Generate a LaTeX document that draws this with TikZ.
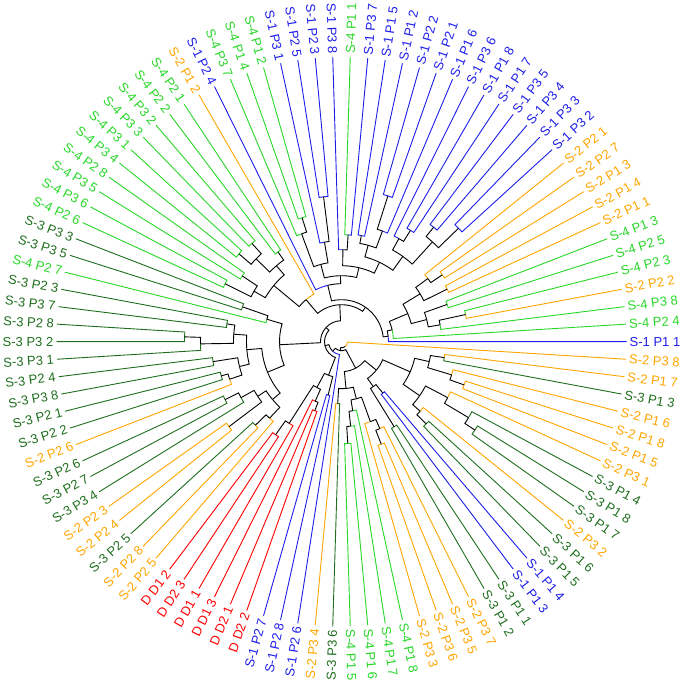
\documentclass[tikz,border=0pt]{standalone}
\usepackage{fontspec}
\setmainfont{Liberation Sans}
\definecolor{cB}{RGB}{30,30,235}
\definecolor{cO}{RGB}{255,165,0}
\definecolor{cG}{RGB}{40,215,40}
\definecolor{cD}{RGB}{30,110,30}
\definecolor{cR}{RGB}{255,0,0}
\newcommand\setv[3]{\expandafter\xdef\csname #1@#2\endcsname{#3}}
\newcommand\getv[2]{\csname #1@#2\endcsname}
\newcommand\Leaf[3]{%
  \pgfmathsetmacro\lfang{(#1-1)*3.5294118}%
  \setv{ang}{L#1}{\lfang}\setv{rad}{L#1}{285}\setv{col}{L#1}{#2}%
  \pgfmathtruncatemacro\lfside{(\lfang>90)&&(\lfang<270)?1:0}%
  \ifnum\lfside=1
    \pgfmathsetmacro\lfrot{\lfang-180}%
    \node[lab,text=#2,rotate=\lfrot,anchor=east] (lab#1) at (\lfang:288pt) {#3};%
  \else
    \node[lab,text=#2,rotate=\lfang,anchor=west] (lab#1) at (\lfang:288pt) {#3};%
  \fi}
\newcommand\TN[4]{%
  \edef\ta{\getv{ang}{#3}}\edef\tb{\getv{ang}{#4}}%
  \edef\ra{\getv{rad}{#3}}\edef\rb{\getv{rad}{#4}}%
  \edef\ca{\getv{col}{#3}}\edef\cb{\getv{col}{#4}}%
  \pgfmathsetmacro\tm{(\ta+\tb)/2}%
  \draw[edge,color=\ca] (\ta:\ra pt) -- (\ta:#2pt) arc[start angle=\ta,end angle=\tm,radius=#2pt];%
  \draw[edge,color=\cb] (\tb:\rb pt) -- (\tb:#2pt) arc[start angle=\tb,end angle=\tm,radius=#2pt];%
  \setv{ang}{#1}{\tm}\setv{rad}{#1}{#2}\setv{col}{#1}{black}}
\tikzset{
  edge/.style={line width=0.9pt,line cap=butt},
  lab/.style={inner sep=0pt,font=\fontsize{13}{15}\selectfont}
}
\begin{document}
\begin{tikzpicture}
\useasboundingbox (-341.5pt,-342.3pt) rectangle (343.5pt,341.7pt);
\Leaf{1}{cB}{S-1 P1 1}
\Leaf{2}{cG}{S-4 P2 4}
\Leaf{3}{cG}{S-4 P3 8}
\Leaf{4}{cO}{S-2 P2 2}
\Leaf{5}{cG}{S-4 P2 3}
\Leaf{6}{cG}{S-4 P2 5}
\Leaf{7}{cG}{S-4 P1 3}
\Leaf{8}{cO}{S-2 P1 1}
\Leaf{9}{cO}{S-2 P1 4}
\Leaf{10}{cO}{S-2 P1 3}
\Leaf{11}{cO}{S-2 P2 7}
\Leaf{12}{cO}{S-2 P2 1}
\Leaf{13}{cB}{S-1 P3 2}
\Leaf{14}{cB}{S-1 P3 3}
\Leaf{15}{cB}{S-1 P3 4}
\Leaf{16}{cB}{S-1 P3 5}
\Leaf{17}{cB}{S-1 P1 7}
\Leaf{18}{cB}{S-1 P1 8}
\Leaf{19}{cB}{S-1 P3 6}
\Leaf{20}{cB}{S-1 P1 6}
\Leaf{21}{cB}{S-1 P2 1}
\Leaf{22}{cB}{S-1 P2 2}
\Leaf{23}{cB}{S-1 P1 2}
\Leaf{24}{cB}{S-1 P1 5}
\Leaf{25}{cB}{S-1 P3 7}
\Leaf{26}{cG}{S-4 P1 1}
\Leaf{27}{cB}{S-1 P3 8}
\Leaf{28}{cB}{S-1 P2 3}
\Leaf{29}{cB}{S-1 P2 5}
\Leaf{30}{cB}{S-1 P3 1}
\Leaf{31}{cG}{S-4 P1 2}
\Leaf{32}{cG}{S-4 P1 4}
\Leaf{33}{cG}{S-4 P3 7}
\Leaf{34}{cB}{S-1 P2 4}
\Leaf{35}{cO}{S-2 P1 2}
\Leaf{36}{cG}{S-4 P2 1}
\Leaf{37}{cG}{S-4 P2 2}
\Leaf{38}{cG}{S-4 P3 2}
\Leaf{39}{cG}{S-4 P3 3}
\Leaf{40}{cG}{S-4 P3 1}
\Leaf{41}{cG}{S-4 P3 4}
\Leaf{42}{cG}{S-4 P2 8}
\Leaf{43}{cG}{S-4 P3 5}
\Leaf{44}{cG}{S-4 P3 6}
\Leaf{45}{cG}{S-4 P2 6}
\Leaf{46}{cD}{S-3 P3 3}
\Leaf{47}{cD}{S-3 P3 5}
\Leaf{48}{cG}{S-4 P2 7}
\Leaf{49}{cD}{S-3 P2 3}
\Leaf{50}{cD}{S-3 P3 7}
\Leaf{51}{cD}{S-3 P2 8}
\Leaf{52}{cD}{S-3 P3 2}
\Leaf{53}{cD}{S-3 P3 1}
\Leaf{54}{cD}{S-3 P2 4}
\Leaf{55}{cD}{S-3 P3 8}
\Leaf{56}{cD}{S-3 P2 1}
\Leaf{57}{cD}{S-3 P2 2}
\Leaf{58}{cO}{S-2 P2 6}
\Leaf{59}{cD}{S-3 P2 6}
\Leaf{60}{cD}{S-3 P2 7}
\Leaf{61}{cD}{S-3 P3 4}
\Leaf{62}{cO}{S-2 P2 3}
\Leaf{63}{cO}{S-2 P2 4}
\Leaf{64}{cD}{S-3 P2 5}
\Leaf{65}{cO}{S-2 P2 8}
\Leaf{66}{cO}{S-2 P2 5}
\Leaf{67}{cR}{D D1 2}
\Leaf{68}{cR}{D D2 3}
\Leaf{69}{cR}{D D1 1}
\Leaf{70}{cR}{D D1 3}
\Leaf{71}{cR}{D D2 1}
\Leaf{72}{cR}{D D2 2}
\Leaf{73}{cB}{S-1 P2 7}
\Leaf{74}{cB}{S-1 P2 8}
\Leaf{75}{cB}{S-1 P2 6}
\Leaf{76}{cO}{S-2 P3 4}
\Leaf{77}{cD}{S-3 P3 6}
\Leaf{78}{cG}{S-4 P1 5}
\Leaf{79}{cG}{S-4 P1 6}
\Leaf{80}{cG}{S-4 P1 7}
\Leaf{81}{cG}{S-4 P1 8}
\Leaf{82}{cO}{S-2 P3 3}
\Leaf{83}{cO}{S-2 P3 6}
\Leaf{84}{cO}{S-2 P3 5}
\Leaf{85}{cO}{S-2 P3 7}
\Leaf{86}{cD}{S-3 P1 2}
\Leaf{87}{cD}{S-3 P1 1}
\Leaf{88}{cB}{S-1 P1 3}
\Leaf{89}{cB}{S-1 P1 4}
\Leaf{90}{cD}{S-3 P1 5}
\Leaf{91}{cD}{S-3 P1 6}
\Leaf{92}{cO}{S-2 P3 2}
\Leaf{93}{cD}{S-3 P1 7}
\Leaf{94}{cD}{S-3 P1 8}
\Leaf{95}{cD}{S-3 P1 4}
\Leaf{96}{cO}{S-2 P3 1}
\Leaf{97}{cO}{S-2 P1 5}
\Leaf{98}{cO}{S-2 P1 8}
\Leaf{99}{cO}{S-2 P1 6}
\Leaf{100}{cD}{S-3 P1 3}
\Leaf{101}{cO}{S-2 P1 7}
\Leaf{102}{cO}{S-2 P3 8}
% right group
\TN{a1}{127}{L4}{L5}
\TN{a2}{100}{L3}{a1}
\TN{a3}{112}{L6}{L7}
\TN{a4}{88}{a2}{a3}
\TN{a5}{121}{L10}{L11}
\TN{a6}{107}{a5}{L12}
\TN{a7}{118}{L8}{L9}
\TN{a8}{92}{a7}{a6}
\TN{a9}{72}{a4}{a8}
\TN{a10}{52}{L2}{a9}
\TN{a11}{47}{L1}{a10}
% blue top
\TN{b1}{163}{L13}{L14}
\TN{b2}{147}{L15}{L16}
\TN{b3}{135}{b1}{b2}
\TN{b4}{131}{L17}{L18}
\TN{b5}{118}{b4}{L19}
\TN{b6}{105}{b3}{b5}
\TN{b7}{153}{L21}{L22}
\TN{b8}{118}{L20}{b7}
\TN{b9}{108}{L23}{L24}
\TN{b10}{100}{b8}{b9}
\TN{b11}{88}{b6}{b10}
\TN{b12}{107}{L25}{L26}
\TN{b13}{92}{b12}{L27}
\TN{b14}{76}{b11}{b13}
\TN{b15}{146}{L28}{L29}
\TN{b16}{101}{b15}{L30}
\TN{b17}{130}{L31}{L32}
\TN{b18}{115}{b17}{L33}
\TN{b20}{80}{b16}{b18}
\TN{b21}{66}{b14}{b20}
\TN{b22}{58}{b21}{L34}
\TN{t1}{42}{a11}{b22}
% green upper left
\TN{g1}{110}{L36}{L37}
\TN{g2}{133}{L38}{L39}
\TN{g3}{135}{L40}{L41}
\TN{g4}{119}{g2}{g3}
\TN{g5}{100}{g1}{g4}
\TN{g6}{119}{L42}{L43}
\TN{g7}{130}{L44}{L45}
\TN{g8}{101}{g6}{g7}
\TN{g9}{88}{g5}{g8}
\TN{g10}{55}{L35}{g9}
\TN{t2}{37}{t1}{g10}
% dark green left
\TN{d1}{105}{L46}{L47}
\TN{d2}{78}{d1}{L48}
\TN{d3}{116}{L49}{L50}
\TN{d4}{157}{L51}{L52}
\TN{d5}{141}{d4}{L53}
\TN{d6}{108}{d3}{d5}
\TN{d7}{130}{L54}{L55}
\TN{d8}{125}{L56}{L57}
\TN{d9}{118}{d8}{L58}
\TN{d10}{105}{d7}{d9}
\TN{d11}{95}{d6}{d10}
\TN{d12}{130}{L59}{L60}
\TN{d13}{115}{d12}{L61}
\TN{d14}{141}{L62}{L63}
\TN{d15}{100}{d13}{d14}
\TN{d16}{120}{L64}{L65}
\TN{d17}{105}{d16}{L66}
\TN{d18}{90}{d15}{d17}
\TN{d19}{80}{d11}{d18}
\TN{d20}{62}{d2}{d19}
\TN{t3}{21}{t2}{d20}
% red and blue bottom
\TN{r1}{114}{L67}{L68}
\TN{r2}{97}{r1}{L69}
\TN{r3}{74}{L71}{L72}
\TN{r4}{65}{L70}{r3}
\TN{r5}{52}{r2}{r4}
\TN{s1}{55}{L73}{L74}
\TN{t4}{36}{r5}{s1}
\TN{t5}{17}{t3}{t4}
\TN{t6}{13}{t5}{L75}
% bottom
\TN{f1}{110}{L83}{L84}
\TN{f2}{95}{f1}{L85}
\TN{f3}{85}{L82}{f2}
\TN{f4}{102}{L78}{L79}
\TN{f5}{85}{f4}{L80}
\TN{f6}{70}{f5}{L81}
\TN{f7}{59}{f6}{f3}
\TN{f8}{62}{L76}{L77}
\TN{f9}{47}{f8}{f7}
% bottom right
\TN{e1}{104}{L100}{L101}
\TN{e2}{130}{L97}{L98}
\TN{e3}{115}{e2}{L99}
\TN{e4}{90}{e3}{e1}
\TN{e5}{160}{L93}{L94}
\TN{e6}{148}{e5}{L95}
\TN{e7}{120}{e6}{L96}
\TN{e8}{118}{L90}{L91}
\TN{e9}{105}{e8}{L92}
\TN{e10}{95}{e9}{e7}
\TN{e11}{75}{e10}{e4}
\TN{e12}{66}{L88}{L89}
\TN{e13}{100}{L86}{L87}
\TN{e14}{55}{e13}{e12}
\TN{e15}{45}{e14}{e11}
\TN{t7}{30}{f9}{e15}
\TN{t8}{9}{t6}{t7}
\TN{root}{6}{t8}{L102}
\end{tikzpicture}
\end{document}
